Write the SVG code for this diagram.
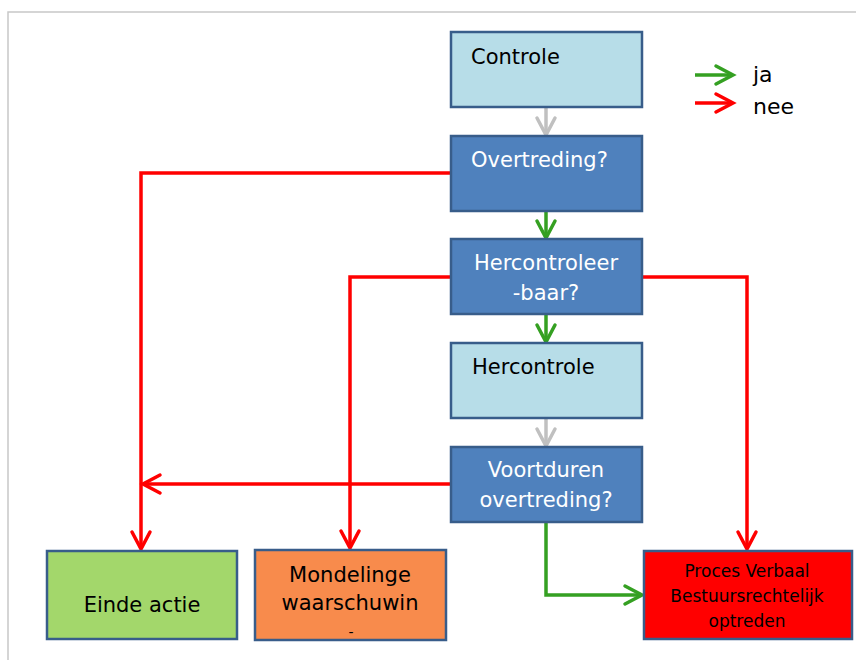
<svg xmlns="http://www.w3.org/2000/svg" width="856" height="660" viewBox="0 0 856 660">
  <style>
    text { font-family: "DejaVu Sans", Verdana, sans-serif; }
    .box { stroke: #385d8a; stroke-width: 2.5; }
    .light { fill: #b7dde8; }
    .dark { fill: #4f81bd; }
    .lbl { font-size: 21px; fill: #000; }
    .wlbl { font-size: 21px; fill: #fff; }
    .c { text-anchor: middle; }
    .red { stroke: #ff0000; stroke-width: 3.5; fill: none; }
    .green { stroke: #35a022; stroke-width: 3.5; fill: none; }
    .gray { stroke: #c0c0c0; stroke-width: 3.5; fill: none; }
  </style>
  <defs>
    <marker id="ah-red" markerUnits="userSpaceOnUse" markerWidth="24" markerHeight="24" viewBox="-20 -12 24 24" refX="0" refY="0" orient="auto">
      <path d="M-17,-9 L0,0 L-17,9" fill="none" stroke="#ff0000" stroke-width="3.5" stroke-linecap="round"/>
    </marker>
    <marker id="ah-green" markerUnits="userSpaceOnUse" markerWidth="24" markerHeight="24" viewBox="-20 -12 24 24" refX="0" refY="0" orient="auto">
      <path d="M-17,-9 L0,0 L-17,9" fill="none" stroke="#35a022" stroke-width="3.5" stroke-linecap="round"/>
    </marker>
    <marker id="ah-gray" markerUnits="userSpaceOnUse" markerWidth="24" markerHeight="24" viewBox="-20 -12 24 24" refX="0" refY="0" orient="auto">
      <path d="M-17,-9 L0,0 L-17,9" fill="none" stroke="#c0c0c0" stroke-width="3.5" stroke-linecap="round"/>
    </marker>
  </defs>

  <rect width="856" height="660" fill="#fff"/>
  <!-- frame -->
  <path d="M8,660 V12 H856" fill="none" stroke="#c8c8c8" stroke-width="1.5"/>

  <!-- legend -->
  <g id="legend">
    <line x1="695" y1="75" x2="733" y2="75" class="green" marker-end="url(#ah-green)"/>
    <line x1="695" y1="103" x2="733" y2="103" class="red" marker-end="url(#ah-red)"/>
    <text x="753" y="82" font-size="22">ja</text>
    <text x="753" y="114" font-size="22">nee</text>
  </g>

  <!-- connectors -->
  <g id="connectors">
    <line x1="546" y1="107" x2="546" y2="135" class="gray" marker-end="url(#ah-gray)"/>
    <line x1="546" y1="211" x2="546" y2="238" class="green" marker-end="url(#ah-green)"/>
    <line x1="546" y1="314" x2="546" y2="342" class="green" marker-end="url(#ah-green)"/>
    <line x1="546" y1="418" x2="546" y2="446" class="gray" marker-end="url(#ah-gray)"/>
    <polyline points="451,173 141,173 141,549" class="red" marker-end="url(#ah-red)"/>
    <polyline points="451,277 350,277 350,548" class="red" marker-end="url(#ah-red)"/>
    <polyline points="642,277 747,277 747,549" class="red" marker-end="url(#ah-red)"/>
    <line x1="451" y1="484" x2="143" y2="484" class="red" marker-end="url(#ah-red)"/>
    <polyline points="546,522 546,595 642,595" class="green" marker-end="url(#ah-green)"/>
  </g>

  <g id="controle">
    <rect x="451" y="32" width="191" height="75" class="box light"/>
    <text x="471" y="64" class="lbl">Controle</text>
  </g>
  <g id="overtreding">
    <rect x="451" y="136" width="191" height="75" class="box dark"/>
    <text x="471" y="167" class="wlbl">Overtreding?</text>
  </g>
  <g id="hercontroleerbaar">
    <rect x="451" y="239" width="191" height="75" class="box dark"/>
    <text x="546" y="270" class="wlbl c">Hercontroleer</text>
    <text x="546" y="300" class="wlbl c">-baar?</text>
  </g>
  <g id="hercontrole">
    <rect x="451" y="343" width="191" height="75" class="box light"/>
    <text x="472" y="374" class="lbl">Hercontrole</text>
  </g>
  <g id="voortduren">
    <rect x="451" y="447" width="191" height="75" class="box dark"/>
    <text x="546" y="477" class="wlbl c">Voortduren</text>
    <text x="546" y="507" class="wlbl c">overtreding?</text>
  </g>
  <g id="einde-actie">
    <rect x="47" y="551" width="190" height="88" fill="#a3d76b" class="box"/>
    <text x="142" y="612" class="lbl c">Einde actie</text>
  </g>
  <g id="mondelinge-waarschuwing">
    <rect x="255" y="550" width="191" height="90" fill="#f88b4c" class="box"/>
    <text x="350" y="582" class="lbl c">Mondelinge</text>
    <text x="350" y="610" class="lbl c">waarschuwin</text>
    <text x="351" y="637" font-size="14" class="c">-</text>
  </g>
  <g id="proces-verbaal">
    <rect x="644" y="551" width="208" height="88" fill="#ff0000" class="box"/>
    <text x="747" y="577" font-size="17" class="c">Proces Verbaal</text>
    <text x="747" y="602" font-size="17" class="c">Bestuursrechtelijk</text>
    <text x="747" y="627" font-size="17" class="c">optreden</text>
  </g>
</svg>
